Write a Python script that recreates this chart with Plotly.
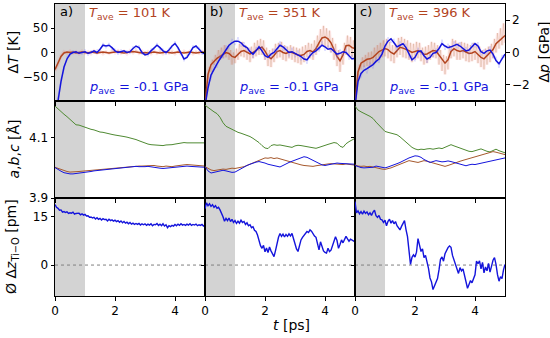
import plotly.graph_objects as go

# ---------------- data ----------------
T10 = [round(i * 0.1, 2) for i in range(51)]    # time grid, ps
T05 = [round(i * 0.05, 2) for i in range(101)]  # fine time grid, ps

panels = ["a)", "b)", "c)"]
T_ave_K = [101, 351, 396]
p_ave_GPa = [-0.1, -0.1, -0.1]

# Row 1: temperature deviation (K), smoothed
dT_smooth_a = [-35, -22, -8, -1, 1, 0, 1, -1, 0, 1, 0, -1, 1, 0, -1, 0, 1, 0, -1, 0,
               1, 2, 0, -1, 0, 1, 2, 1, 0, -1, 0, -1, 0, 1, 0, -1, 0, 1, 0, -1,
               0, 1, 0, -1, 0, 1, 0, -1, 0, 1, 0]
dT_smooth_b = [-110, -45, -25, -18, -12, -8, -3, 0, -2, -8, -10, -4, 2, 4, 0, -3, 0, 5, 9, 11,
               3, -8, -13, -6, 2, 4, 0, -2, 1, 0, -3, -5, -6, -4, 2, 4, 1, 8, 20, 30,
               32, 28, 20, 5, -8, -17, -5, 14, 15, 10, 8]
dT_smooth_c = [-110, -40, -22, -18, -14, -13, -10, -4, 2, 5, 8, 6, 0, -3, 4, 11, 9, 7, 4, 0,
               2, 4, 1, -4, -3, 1, 4, 3, -5, -15, -22, -15, 2, 8, 4, 2, 4, 1, -2, -1,
               2, -4, -10, -13, -6, -1, 6, 18, 24, 30, 35]
# Row 1: temperature deviation (K), raw
dT_raw_a = [-38, -25, -6, 2, -2, 3, -2, 2, -3, 3, -2, 2, -3, 4, -2, 3, -3, 2, -2, 4,
            -1, 4, -2, 3, -3, 4, -1, 5, -2, 3, -3, 2, -3, 3, -2, 3, -3, 2, -2, 3,
            -3, 2, -3, 3, -2, 3, -3, 2, -2, 3, -1]
dT_raw_b = [-115, -70, -50, -30, -40, -15, -25, -5, -20, 5,
            -15, 10, -12, 15, -10, 12, -15, 5, -25, 0,
            -22, 8, -15, 18, -8, 22, -10, 15, -15, 10,
            -20, 12, -12, 20, -8, 25, -5, 28, -5, 25,
            -15, 10, -28, 5, -30, 8, -20, 18, -12, 20,
            -10, 22, -15, 15, -18, 12, -12, 15, -15, 12,
            -20, 10, -22, 8, -25, 12, -20, 15, -10, 20,
            -12, 18, -15, 25, -5, 35, 5, 48, 15, 55,
            12, 50, 8, 45, 0, 30, -15, 18, -28, 5,
            -40, 0, -25, 20, -5, 35, -5, 32, -10, 25,
            -5]
dT_raw_c = [-115, -60, -45, -25, -35, -10, -30, -5, -28, 0,
            -30, 2, -25, 10, -20, 15, -15, 20, -10, 25,
            -8, 28, -12, 22, -18, 15, -22, 18, -10, 30,
            -5, 32, -10, 28, -12, 25, -15, 20, -20, 18,
            -15, 22, -12, 20, -18, 10, -25, 12, -22, 15,
            -15, 22, -10, 20, -12, 15, -25, 5, -38, -5,
            -45, -8, -35, 15, -12, 28, -8, 25, -15, 20,
            -15, 22, -12, 20, -18, 18, -20, 15, -18, 20,
            -15, 18, -22, 12, -30, 5, -35, 8, -25, 12,
            -20, 18, -12, 28, 0, 40, 8, 50, 15, 60,
            20]

# Row 1: pressure deviation (GPa), smoothed
dp_smooth_a = [-3.2, -3.0, -1.8, -0.9, -0.4, -0.1, 0.0, 0.05, -0.05, 0.0,
               0.05, -0.05, 0.0, 0.1, 0.0, 0.2, 0.45, 0.4, 0.45, 0.3,
               0.1, 0.0, 0.05, 0.1, 0.0, 0.05, 0.25, 0.4, 0.3, 0.0,
               -0.15, -0.1, 0.1, 0.3, 0.45, 0.3, 0.1, 0.0, 0.15, 0.4,
               0.55, 0.3, -0.1, -0.4, -0.3, 0.0, 0.3, 0.4, 0.2, 0.0, -0.1]
dp_smooth_b = [-3.3, -2.2, -1.4, -1.0, -0.7, -0.4, -0.1, 0.2, 0.45, 0.6,
               0.7, 0.7, 0.6, 0.4, 0.3, 0.05, -0.1, 0.1, 0.35, 0.1,
               -0.2, -0.3, -0.1, 0.0, 0.2, 0.45, 0.35, 0.15, 0.0, 0.05,
               -0.05, -0.1, -0.25, -0.4, -0.45, -0.2, 0.0, 0.1, 0.3, 0.45,
               0.35, 0.2, 0.25, 0.05, -0.1, -0.05, 0.05, 0.0, -0.2, -0.4, -0.35]
dp_smooth_c = [-3.3, -1.8, -1.3, -1.1, -1.0, -0.9, -0.75, -0.55, -0.4, -0.1,
               0.4, 0.7, 0.85, 0.6, 0.35, 0.45, 0.55, 0.3, -0.1, -0.45,
               -0.3, 0.05, 0.1, -0.2, -0.4, -0.3, -0.05, 0.0, 0.25, 0.55,
               0.4, 0.3, 0.35, 0.45, 0.5, 0.4, 0.25, 0.1, 0.15, 0.35,
               0.55, 0.4, 0.05, -0.05, 0.1, 0.15, -0.1, -0.5, -0.7, -0.4, -0.1]
# Row 1: pressure deviation (GPa), raw
dp_raw_a = [-3.3, -2.7, -1.6, -1.1, -0.2, -0.25, 0.15, -0.1, 0.1, -0.15,
            0.2, -0.2, 0.15, -0.05, 0.2, 0.05, 0.6, 0.25, 0.6, 0.15,
            0.25, -0.15, 0.2, -0.05, 0.15, -0.1, 0.4, 0.25, 0.45, -0.15,
            0.0, -0.25, 0.25, 0.15, 0.6, 0.15, 0.25, -0.15, 0.3, 0.25,
            0.7, 0.15, 0.05, -0.55, -0.15, -0.15, 0.45, 0.25, 0.35, -0.15, 0.05]
dp_raw_b = [-3.4, -1.9, -1.7, -0.7, -0.95, -0.15, -0.35, 0.45, 0.2, 0.85,
            0.45, 0.95, 0.35, 0.65, 0.05, 0.3, -0.35, 0.35, 0.1, 0.4,
            -0.45, -0.05, -0.35, 0.25, -0.05, 0.7, 0.1, 0.4, -0.25, 0.3,
            -0.3, 0.15, -0.5, -0.15, -0.7, 0.05, -0.25, 0.35, 0.05, 0.7,
            0.1, 0.45, 0.0, 0.3, -0.35, 0.2, -0.2, 0.25, -0.45, -0.15, -0.6]
dp_raw_c = [-3.4, -1.5, -1.6, -0.8, -1.3, -0.6, -1.0, -0.3, -0.65, 0.15,
            0.15, 0.95, 0.6, 0.85, 0.1, 0.7, 0.3, 0.55, -0.35, -0.2,
            -0.55, 0.3, -0.15, 0.05, -0.65, -0.05, -0.3, 0.25, 0.0, 0.8,
            0.15, 0.55, 0.1, 0.7, 0.25, 0.65, 0.0, 0.35, -0.1, 0.6,
            0.3, 0.65, -0.2, 0.2, -0.15, 0.4, -0.35, -0.25, -0.95, -0.15, -0.35]

# Row 2: lattice parameters (Angstrom)
lat_c_a = [4.205, 4.195, 4.187, 4.178, 4.170, 4.160, 4.150, 4.143, 4.142, 4.138,
           4.136, 4.132, 4.128, 4.126, 4.122, 4.119, 4.118, 4.115, 4.113, 4.111,
           4.109, 4.108, 4.106, 4.104, 4.102, 4.100, 4.098, 4.094, 4.090, 4.086,
           4.082, 4.079, 4.077, 4.076, 4.076, 4.075, 4.074, 4.076, 4.076, 4.077,
           4.079, 4.081, 4.083, 4.084, 4.083, 4.083, 4.082, 4.083, 4.084, 4.083, 4.083]
lat_a_a = [4.002, 3.998, 3.994, 3.990, 3.988, 3.986, 3.986, 3.987, 3.988, 3.989,
           3.990, 3.991, 3.992, 3.993, 3.994, 3.995, 3.996, 3.997, 3.998, 3.999,
           4.000, 4.001, 4.001, 4.002, 4.003, 4.003, 4.004, 4.005, 4.006, 4.006,
           4.007, 4.006, 4.007, 4.008, 4.006, 4.005, 4.004, 4.006, 4.005, 4.004,
           4.006, 4.008, 4.009, 4.010, 4.011, 4.010, 4.009, 4.008, 4.007, 4.006, 4.006]
lat_b_a = [4.001, 3.994, 3.989, 3.984, 3.981, 3.980, 3.980, 3.981, 3.983, 3.984,
           3.985, 3.987, 3.988, 3.990, 3.991, 3.993, 3.994, 3.996, 3.997, 3.998,
           3.999, 4.000, 4.001, 4.002, 4.003, 4.003, 4.004, 4.005, 4.004, 4.003,
           4.004, 4.005, 4.003, 4.002, 4.001, 3.999, 3.998, 3.999, 4.001, 4.002,
           4.004, 4.005, 4.006, 4.007, 4.006, 4.005, 4.004, 4.003, 4.002, 4.003, 4.002]
lat_c_b = [4.208, 4.200, 4.194, 4.186, 4.180, 4.168, 4.150, 4.138, 4.133, 4.128,
           4.122, 4.118, 4.115, 4.112, 4.109, 4.104, 4.098, 4.092, 4.084, 4.074,
           4.066, 4.064, 4.074, 4.077, 4.075, 4.076, 4.074, 4.072, 4.070, 4.068,
           4.073, 4.075, 4.074, 4.072, 4.070, 4.068, 4.067, 4.065, 4.068, 4.072,
           4.075, 4.078, 4.081, 4.084, 4.082, 4.072, 4.068, 4.080, 4.087, 4.093, 4.098]
lat_a_b = [4.004, 3.998, 3.993, 3.991, 3.993, 3.994, 3.996, 3.995, 3.997, 3.999,
           3.998, 4.001, 4.002, 4.004, 4.008, 4.012, 4.017, 4.021, 4.026, 4.030,
           4.033, 4.032, 4.034, 4.031, 4.033, 4.030, 4.027, 4.024, 4.022, 4.018,
           4.014, 4.011, 4.010, 4.008, 4.007, 4.006, 4.005, 4.007, 4.009, 4.011,
           4.012, 4.013, 4.014, 4.013, 4.012, 4.010, 4.011, 4.013, 4.012, 4.010, 4.009]
lat_b_b = [4.004, 3.990, 3.983, 3.985, 3.988, 3.990, 3.992, 3.990, 3.987, 3.985,
           3.986, 3.992, 3.998, 4.003, 4.008, 4.012, 4.016, 4.019, 4.021, 4.019,
           4.016, 4.012, 4.010, 4.006, 4.004, 4.003, 4.008, 4.014, 4.018, 4.022,
           4.026, 4.030, 4.034, 4.037, 4.035, 4.030, 4.024, 4.020, 4.015, 4.010,
           4.008, 4.009, 4.012, 4.014, 4.016, 4.015, 4.014, 4.015, 4.013, 4.012, 4.012]
lat_c_c = [4.205, 4.192, 4.186, 4.182, 4.176, 4.171, 4.164, 4.152, 4.142, 4.130,
           4.121, 4.118, 4.116, 4.113, 4.110, 4.103, 4.094, 4.085, 4.076, 4.068,
           4.063, 4.060, 4.062, 4.061, 4.063, 4.064, 4.062, 4.064, 4.066, 4.064,
           4.068, 4.074, 4.077, 4.073, 4.069, 4.066, 4.062, 4.058, 4.055, 4.054,
           4.056, 4.060, 4.063, 4.058, 4.055, 4.053, 4.058, 4.062, 4.057, 4.053, 4.050]
lat_a_c = [4.010, 4.006, 4.005, 4.006, 4.004, 4.005, 4.003, 4.000, 3.997, 3.996,
           3.995, 3.997, 4.000, 4.004, 4.008, 4.012, 4.017, 4.022, 4.024, 4.022,
           4.019, 4.018, 4.021, 4.024, 4.022, 4.019, 4.016, 4.012, 4.009, 4.006,
           4.005, 4.008, 4.012, 4.016, 4.019, 4.022, 4.025, 4.028, 4.030, 4.033,
           4.036, 4.039, 4.042, 4.046, 4.049, 4.052, 4.054, 4.052, 4.050, 4.047, 4.044]
lat_b_c = [4.008, 4.004, 4.001, 4.000, 4.001, 4.000, 4.002, 4.006, 4.004, 4.001,
           4.000, 4.003, 4.006, 4.010, 4.014, 4.018, 4.022, 4.028, 4.033, 4.037,
           4.040, 4.039, 4.035, 4.028, 4.022, 4.018, 4.021, 4.024, 4.022, 4.020,
           4.021, 4.023, 4.021, 4.018, 4.016, 4.014, 4.010, 4.007, 4.010, 4.012,
           4.011, 4.013, 4.016, 4.018, 4.020, 4.022, 4.024, 4.026, 4.029, 4.031, 4.033]

# Row 3: mean Ti-O displacement (pm), fine grid
dz_a = [18.8, 17.9, 17.6, 17.0, 17.1, 16.4, 16.6, 16.3, 16.5, 16.0,
        16.2, 16.1, 16.4, 15.8, 16.0, 16.0, 16.1, 15.6, 15.9, 15.5,
        15.7, 15.2, 15.3, 14.8, 14.9, 14.6, 14.8, 14.3, 14.7, 14.2,
        14.5, 14.0, 14.4, 14.1, 14.2, 13.7, 14.2, 13.8, 14.0, 13.6,
        13.9, 13.5, 13.8, 13.3, 13.7, 13.1, 13.5, 13.0, 13.3, 12.8,
        13.2, 12.7, 13.0, 12.6, 12.9, 12.6, 12.9, 12.4, 12.8, 12.5,
        12.8, 12.3, 12.7, 12.4, 12.8, 12.2, 12.6, 12.5, 12.9, 12.3,
        12.7, 12.2, 12.8, 12.1, 12.5, 11.6, 12.2, 11.9, 12.3, 12.1,
        12.6, 12.2, 12.7, 12.3, 12.8, 12.4, 12.6, 12.3, 12.7, 12.4,
        12.8, 12.3, 12.6, 12.4, 12.7, 12.2, 12.5, 12.3, 12.6, 12.1,
        12.4]
dz_b = [17.5, 19.3, 18.4, 19.0, 18.2, 18.7, 17.9, 18.4, 17.6, 17.9,
        17.1, 16.2, 15.0, 13.6, 14.5, 13.8, 14.6, 13.5, 14.2, 13.2,
        13.8, 12.9, 13.6, 13.0, 13.9, 13.2, 13.5, 12.6, 13.1, 12.2,
        12.5, 11.6, 11.9, 10.8, 10.4, 9.3, 7.2, 6.0, 5.2, 6.1,
        4.1, 5.3, 3.9, 5.6, 4.4, 3.6, 2.6, 4.5, 6.8, 8.6,
        9.8, 8.9, 9.6, 8.7, 9.5, 8.9, 9.7, 9.0, 9.8, 8.0,
        6.4, 5.0, 4.2, 6.0, 7.8, 8.6, 9.2, 9.8, 10.4, 10.1,
        10.9, 10.5, 9.6, 9.0, 8.6, 6.8, 4.7, 7.2, 6.0, 4.4,
        3.9, 3.7, 5.2, 4.2, 4.6, 6.2, 7.4, 8.8, 7.6, 5.2,
        6.4, 7.8, 6.9, 8.2, 8.9, 8.1, 7.4, 8.0, 7.8, 7.5,
        7.2]
dz_c = [19.7, 16.2, 16.8, 15.9, 16.6, 15.8, 16.7, 16.0, 16.5, 15.6,
        16.2, 15.4, 16.4, 17.0, 15.3, 14.8, 15.4, 14.2, 14.0, 13.2,
        13.9, 12.2, 13.6, 14.2, 13.0, 13.8, 12.8, 13.5, 12.2, 11.6,
        10.9, 12.0, 12.9, 13.8, 11.0, 8.8, 4.5, 0.2, 2.4, 3.2,
        2.5, 4.0, 8.2, 5.6, 4.2, 5.0, 2.3, 3.0, 1.2, -1.0,
        -4.0, -5.2, -7.6, -6.4, -5.8, -4.2, -1.5, 1.8, 2.5, 1.2,
        3.5, 4.6, 5.4, 5.9, 5.5, 3.0, 1.4, 0.5, -1.5, -2.6,
        -0.8, -1.8, -1.2, -3.4, -5.6, -7.2, -6.0, -4.8, -5.5, -4.0,
        -3.0, 1.2, 0.4, 1.3, -1.2, 0.8, -2.4, -0.6, -1.8, 0.5,
        -2.2, -0.4, 1.5, 2.3, 0.2, -3.0, -5.0, -3.6, -4.2, -1.5,
        0.2]

for arr in [dT_smooth_a, dT_smooth_b, dT_smooth_c, dT_raw_a, dp_smooth_a, dp_smooth_b,
            dp_smooth_c, dp_raw_a, dp_raw_b, dp_raw_c, lat_c_a, lat_a_a, lat_b_a, lat_c_b,
            lat_a_b, lat_b_b, lat_c_c, lat_a_c, lat_b_c]:
    assert len(arr) == 51, len(arr)
for arr in [dT_raw_b, dT_raw_c, dz_a, dz_b, dz_c]:
    assert len(arr) == 101, len(arr)

# ---------------- styling ----------------
W, H = 550, 338
BLUE = "#1414dc"
BROWN = "#b3441f"
LAT_BROWN = "#a5582c"
GREEN = "#4f8a32"
FONT = "DejaVu Sans"

col_dom = [[55 / W, 205 / W], [205 / W, 355 / W], [355 / W, 505 / W]]
row_dom = [[1 - 101 / H, 1 - 4 / H], [1 - 198 / H, 1 - 101 / H], [1 - 296 / H, 1 - 198 / H]]

fig = go.Figure()
layout = dict(width=W, height=H, margin=dict(l=0, r=0, t=0, b=0, autoexpand=False),
              paper_bgcolor="white", plot_bgcolor="white", showlegend=False,
              font=dict(family=FONT, size=12, color="black"))


def ax(k):
    return "" if k == 1 else str(k)


shapes = []
annotations = []
tickfont = dict(family=FONT, size=12, color="black")
for r in range(3):
    for c in range(3):
        k = r * 3 + c + 1
        layout["xaxis" + ax(k)] = dict(
            domain=col_dom[c], anchor="y" + ax(k), range=[0, 5], tickvals=[0, 2, 4],
            showticklabels=(r == 2), ticks="outside", ticklen=3.5, tickwidth=0.8,
            tickcolor="black", showline=True, mirror=True, linecolor="black",
            linewidth=1, showgrid=False, zeroline=False, tickfont=tickfont,
            automargin=False)
        ydict = dict(domain=row_dom[r], anchor="x" + ax(k), showticklabels=(c == 0),
                     ticks="outside", ticklen=3.5, tickwidth=0.8, tickcolor="black",
                     showline=True, mirror=True, linecolor="black", linewidth=1,
                     showgrid=False, zeroline=False, tickfont=tickfont, automargin=False)
        if r == 0:
            ydict.update(range=[-100, 100], tickvals=[-50, 0, 50])
        elif r == 1:
            ydict.update(range=[3.9, 4.222], tickvals=[3.9, 4.1], ticktext=["3.9", "4.1"])
        else:
            ydict.update(range=[-9.6, 20.8], tickvals=[0, 15])
        layout["yaxis" + ax(k)] = ydict
        # grey equilibration window 0-1 ps
        shapes.append(dict(type="rect", xref="x" + ax(k), yref="y" + ax(k) + " domain",
                           x0=0, x1=1, y0=0, y1=1, fillcolor="#d3d3d3",
                           line=dict(width=0), layer="below"))
        if r == 2:
            shapes.append(dict(type="line", xref="x" + ax(k) + " domain", yref="y" + ax(k),
                               x0=0, x1=1, y0=0, y1=0,
                               line=dict(color="#808080", width=1, dash="dot"), layer="below"))

# secondary pressure axes on the top row
for c in range(3):
    k2 = 10 + c
    layout["yaxis%d" % k2] = dict(
        overlaying="y" + ax(c + 1), anchor="x" + ax(c + 1), side="right", range=[-3, 3],
        tickvals=[-2, 0, 2], ticks="outside" if c == 2 else "", ticklen=3.5, tickwidth=0.8,
        tickcolor="black", showline=False, showgrid=False, zeroline=False, tickfont=tickfont,
        showticklabels=(c == 2), automargin=False)

# ---------------- traces ----------------
dT_s = [dT_smooth_a, dT_smooth_b, dT_smooth_c]
dT_r = [(T10, dT_raw_a), (T05, dT_raw_b), (T05, dT_raw_c)]
dp_s = [dp_smooth_a, dp_smooth_b, dp_smooth_c]
dp_r = [dp_raw_a, dp_raw_b, dp_raw_c]
lat = [(lat_a_a, lat_b_a, lat_c_a), (lat_a_b, lat_b_b, lat_c_b), (lat_a_c, lat_b_c, lat_c_c)]
dz = [dz_a, dz_b, dz_c]

for c in range(3):
    k1 = c + 1
    xr, yr = dT_r[c]
    fig.add_trace(go.Scatter(x=xr, y=yr, mode="lines", xaxis="x" + ax(k1), yaxis="y" + ax(k1),
                             line=dict(color="rgba(255,80,80,0.13)", width=3)))
    fig.add_trace(go.Scatter(x=xr, y=yr, mode="lines", xaxis="x" + ax(k1), yaxis="y" + ax(k1),
                             line=dict(color="rgba(190,140,100,0.40)", width=0.7)))
    fig.add_trace(go.Scatter(x=T10, y=dT_s[c], mode="lines", xaxis="x" + ax(k1),
                             yaxis="y" + ax(k1), line=dict(color=BROWN, width=1.5)))
    fig.add_trace(go.Scatter(x=T10, y=dp_r[c], mode="lines", xaxis="x" + ax(k1),
                             yaxis="y%d" % (10 + c),
                             line=dict(color="rgba(110,110,255,0.30)", width=0.8)))
    fig.add_trace(go.Scatter(x=T10, y=dp_s[c], mode="lines", xaxis="x" + ax(k1),
                             yaxis="y%d" % (10 + c), line=dict(color=BLUE, width=1.5)))

    k2 = c + 4
    la, lb, lc = lat[c]
    for yv, col in [(lc, GREEN), (la, LAT_BROWN), (lb, BLUE)]:
        fig.add_trace(go.Scatter(x=T10, y=yv, mode="lines", xaxis="x" + ax(k2),
                                 yaxis="y" + ax(k2), line=dict(color=col, width=1)))

    k3 = c + 7
    fig.add_trace(go.Scatter(x=T05, y=dz[c], mode="lines", xaxis="x" + ax(k3),
                             yaxis="y" + ax(k3), line=dict(color=BLUE, width=1.4)))

    # annotations per column
    annotations.append(dict(text=panels[c], xref="x%s domain" % ax(k1), yref="y%s domain" % ax(k1),
                            x=0.02, y=1.0, xanchor="left", yanchor="top", yshift=2,
                            showarrow=False, font=dict(family=FONT, size=13, color="black")))
    annotations.append(dict(text="<i>T</i><sub>ave</sub> = %d K" % T_ave_K[c],
                            xref="x%s domain" % ax(k1), yref="y%s domain" % ax(k1),
                            x=0.5, y=1.0, xanchor="center", yanchor="top", yshift=1,
                            showarrow=False, font=dict(family=FONT, size=13, color=BROWN)))
    annotations.append(dict(text="<i>p</i><sub>ave</sub> = %s GPa" % p_ave_GPa[c],
                            xref="x%s domain" % ax(k1), yref="y%s domain" % ax(k1),
                            x=0.56, y=0.14, xanchor="center", yanchor="middle", showarrow=False,
                            font=dict(family=FONT, size=13, color=BLUE)))

# axis titles
title_font = dict(family=FONT, size=14, color="black")
common = dict(xref="paper", yref="paper", showarrow=False, font=title_font,
              xanchor="center", yanchor="middle")
annotations += [
    dict(text="Δ<i>T</i> [K]", x=13 / W, y=1 - 52.5 / H, textangle=-90, **common),
    dict(text="<i>a</i>,<i>b</i>,<i>c</i> [Å]", x=13 / W, y=1 - 149.5 / H, textangle=-90,
         **common),
    dict(text="Ø Δ<i>z</i><sub>Ti−O</sub> [pm]", x=12 / W, y=1 - 247 / H, textangle=-90,
         **common),
    dict(text="Δ<i>p</i> [GPa]", x=544 / W, y=1 - 52.5 / H, textangle=-90, **common),
    dict(text="<i>t</i> [ps]", x=291 / W, y=1 - 325 / H, **common),
]

layout["shapes"] = shapes
layout["annotations"] = annotations
fig.update_layout(**layout)
fig.write_html("out.html", config={"displayModeBar": False},
               post_script="document.body.style.margin='0';document.body.style.padding='0';")
